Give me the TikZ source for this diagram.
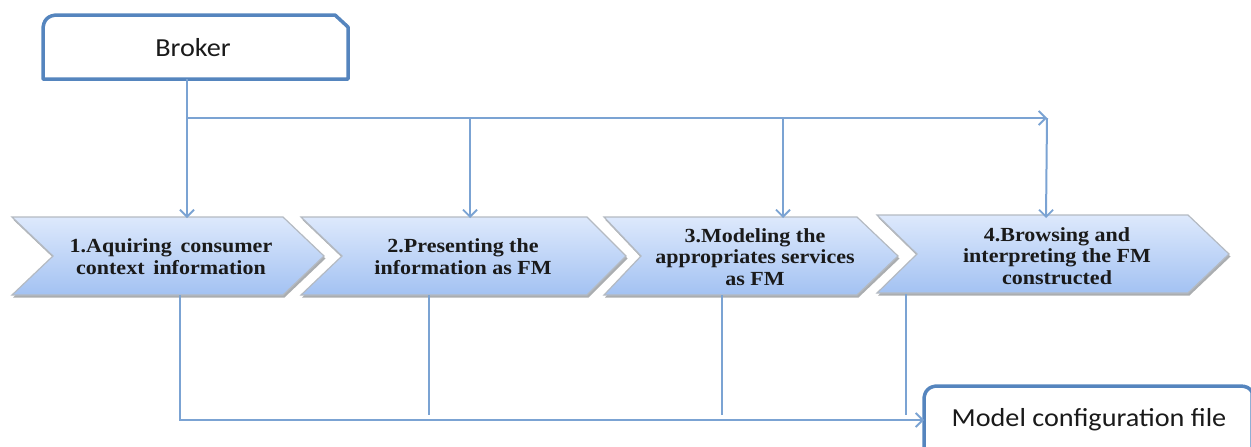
\documentclass[tikz,border=0pt]{standalone}
\usepackage{fontspec}
\setmainfont{Carlito}[FakeStretch=1.085]
\newfontfamily\stepfont{Liberation Serif}[FakeStretch=1.1]
\usetikzlibrary{arrows.meta}
\definecolor{boxblue}{HTML}{5585BE}
\definecolor{linkblue}{HTML}{7BA3D3}
\definecolor{edgegrey}{HTML}{B4BAC2}
\definecolor{shadegrey}{HTML}{8E9296}
\definecolor{chevtop}{HTML}{DDE9FC}
\definecolor{chevbot}{HTML}{A3C2F2}
\definecolor{inktext}{HTML}{1A1A1A}
\tikzset{
  x=1pt,y=-1pt,
  boxline/.style={draw=boxblue,line width=3.5pt,fill=white,line join=round},
  boxtext/.style={font=\fontsize{26}{30}\selectfont,text=inktext,inner sep=0pt},
  steptext/.style={font=\stepfont\bfseries\fontsize{20}{21.7}\selectfont,text=inktext,align=center,inner sep=0pt},
  link/.style={draw=linkblue,line width=2pt},
  linkarrow/.style={link,-{Straight Barb[length=7pt,width=14pt,line width=1.8pt]}},
  chevfill/.style={top color=chevtop,bottom color=chevbot,draw=edgegrey,line width=1.2pt,line join=miter},
  chevshadow/.style={fill=shadegrey,fill opacity=.75},
}
\newcommand{\chevron}[6]{% left notch shoulder tip top bottom
  \path[chevshadow] ({#1+1},{#6+2.5}) -- ({#2+1},{(#5+#6)/2+2.5}) -- ({#1+1},{#5+2.5}) -- ({#3+1.5},{#5+2.5}) -- ({#4+1.5},{(#5+#6)/2+2.5}) -- ({#3+1.5},{#6+2.5}) -- cycle;
  \path[chevfill] (#1,#5) -- (#3,#5) -- (#4,{(#5+#6)/2}) -- (#3,#6) -- (#1,#6) -- (#2,{(#5+#6)/2}) -- cycle;
}
\begin{document}
\begin{tikzpicture}
\useasboundingbox (0,0) rectangle (1251,447);
% step shapes
\chevron{12}{53}{283}{324}{217}{295}
\chevron{301}{342}{587}{626}{217}{295}
\chevron{604}{641}{857}{898}{217}{295}
\chevron{877}{917}{1188}{1229}{215}{293}
% boxes
\path[boxline] (43,79) -- (43,30) .. controls (43,20) and (48,15) .. (58,15) -- (335,15) -- (348,27) -- (348,79) -- cycle;
\path[boxline] (924,449) -- (924,400) .. controls (924,391) and (929,386) .. (938,386) -- (1240,386) .. controls (1246,386) and (1250,388) .. (1252,392) -- (1252,449) -- cycle;
% nodes
\node[boxtext] (broker) at (193,48) {Broker};
\node[boxtext] (model) at (1089,420) {Model configuration file};
\node[steptext] (s1) at (171,257) {1.Aquiring\, consumer\\context\, information};
\node[steptext] (s2) at (463,257) {2.Presenting the\\information as FM};
\node[steptext] (s3) at (755,257) {3.Modeling the\\appropriates services\\as FM};
\node[steptext] (s4) at (1057,256) {4.Browsing and\\interpreting the FM\\constructed};
% anchors
\coordinate (bout) at (187,79);
\coordinate (bjoin) at (187,118);
\coordinate (t1) at (187,218);
\coordinate (j2) at (470,118);
\coordinate (t2) at (470,218);
\coordinate (j3) at (783,118);
\coordinate (t3) at (783,218);
\coordinate (j4) at (1047,118);
\coordinate (t4) at (1046,218);
\coordinate (o1) at (180,295);
\coordinate (corner) at (180,420);
\coordinate (o2) at (429,295);
\coordinate (e2) at (429,415);
\coordinate (o3) at (722,295);
\coordinate (e3) at (722,415);
\coordinate (o4) at (906,294);
\coordinate (e4) at (906,415);
\coordinate (min) at (924,420);
% connectors
\draw[linkarrow] (bout) -- (t1);
\draw[linkarrow] (bjoin) -- (j4);
\draw[linkarrow] (j2) -- (t2);
\draw[linkarrow] (j3) -- (t3);
\draw[linkarrow] (j4) -- (t4);
\draw[linkarrow] (o1) -- (corner) -- (min);
\draw[link] (o2) -- (e2);
\draw[link] (o3) -- (e3);
\draw[link] (o4) -- (e4);
\end{tikzpicture}
\end{document}
